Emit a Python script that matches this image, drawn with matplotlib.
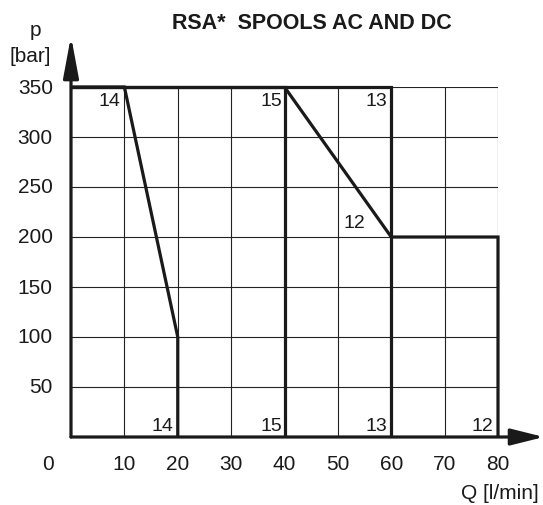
import matplotlib
matplotlib.use("Agg")
import matplotlib.pyplot as plt

plt.rcParams['font.family'] = ['Liberation Sans', 'DejaVu Sans']

# operating limits per spool (flow Q in l/min, pressure p in bar)
q_14 = [0, 10, 20, 20]
p_14 = [350, 350, 100, 0]
q_15 = [0, 40, 40]
p_15 = [350, 350, 0]
q_13 = [0, 60, 60]
p_13 = [350, 350, 0]
q_12 = [40, 60, 80, 80]
p_12 = [350, 200, 200, 0]

x_ticks = [10, 20, 30, 40, 50, 60, 70, 80]
y_ticks = [50, 100, 150, 200, 250, 300, 350]

# curve labels: text, Q, p (anchor at right edge)
labels = [
    ("14", 9.2, 337), ("15", 39.6, 337), ("13", 59.2, 337),
    ("12", 55.2, 214),
    ("14", 19.2, 11), ("15", 39.6, 11), ("13", 59.2, 11), ("12", 79.2, 11),
]

W, H = 543, 506
fig = plt.figure(figsize=(W / 100, H / 100), dpi=100)
ax = fig.add_axes([71 / W, 1 - 438 / H, (498 - 71) / W, (438 - 88) / H])
ax.set_xlim(0, 80)
ax.set_ylim(0, 350)
for s in ax.spines.values():
    s.set_visible(False)
ax.set_xticks([])
ax.set_yticks([])

# thin grid
for x in x_ticks:
    ax.plot([x, x], [0, 350], color='#222', lw=0.8, zorder=1)
for y in y_ticks:
    ax.plot([0, 80], [y, y], color='#222', lw=0.8, zorder=1)

thick = dict(color='#1a1a1a', lw=2.3, zorder=3, solid_joinstyle='miter',
             solid_capstyle='butt', clip_on=False)
for q, p in [(q_14, p_14), (q_15, p_15), (q_13, p_13), (q_12, p_12)]:
    ax.plot(q, p, **thick)

# axes with arrows
ax.annotate('', xy=(88.6, 0), xytext=(0, 0), annotation_clip=False,
            arrowprops=dict(arrowstyle='-|>,head_length=1.12,head_width=0.28',
                            mutation_scale=18, lw=2.3, color='#1a1a1a',
                            shrinkA=0, shrinkB=0))
ax.annotate('', xy=(0, 401), xytext=(0, 0), annotation_clip=False,
            arrowprops=dict(arrowstyle='-|>,head_length=1.4,head_width=0.26',
                            mutation_scale=18, lw=2.3, color='#1a1a1a',
                            shrinkA=0, shrinkB=0))

fs = 15
for x in x_ticks:
    ax.text(x, -27, str(x), ha='center', va='center', fontsize=fs, color='#1a1a1a')
for y in y_ticks:
    ax.text(-3.4, y, str(y), ha='right', va='center', fontsize=fs, color='#1a1a1a')
for t, q, p in labels:
    ax.text(q, p, t, ha='right', va='center', fontsize=14, color='#1a1a1a')

fig.text(48 / W, 1 - 465 / H, "0", ha='center', va='center', fontsize=fs, color='#1a1a1a')
fig.text(35 / W, 1 - 31 / H, "p", ha='center', va='center', fontsize=fs, color='#1a1a1a')
fig.text(30 / W, 1 - 56 / H, "[bar]", ha='center', va='center', fontsize=fs, color='#1a1a1a')
fig.text(539 / W, 1 - 494 / H, "Q [l/min]", ha='right', va='center', fontsize=fs, color='#1a1a1a')
fig.text(312 / W, 1 - 24 / H, "RSA*  SPOOLS AC AND DC", ha='center', va='center',
         fontsize=15.5, fontweight='bold', color='#1a1a1a')

fig.savefig("out.png", dpi=100)
